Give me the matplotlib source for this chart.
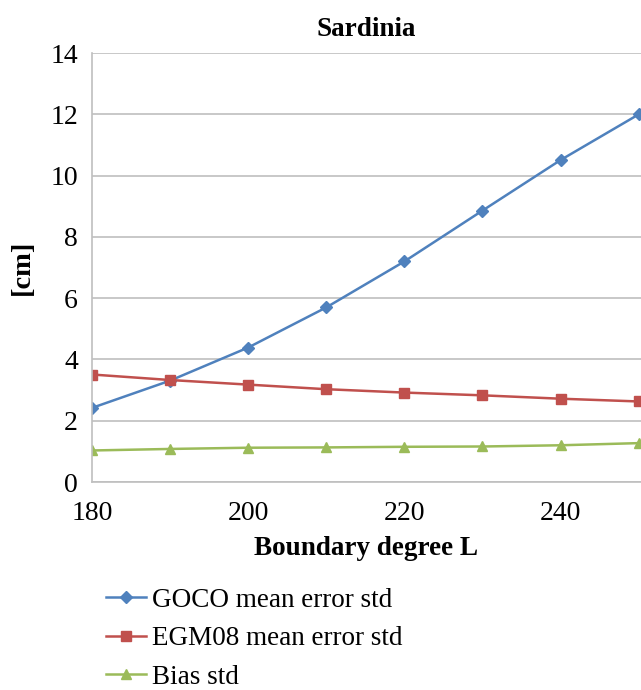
import numpy as np
import matplotlib
matplotlib.use("Agg")
import matplotlib.pyplot as plt

plt.rcParams['font.family'] = ['Liberation Serif', 'DejaVu Serif']

degree = [180, 190, 200, 210, 220, 230, 240, 250]
goco = [2.42, 3.31, 4.39, 5.70, 7.20, 8.86, 10.51, 12.0]
egm08 = [3.51, 3.33, 3.18, 3.03, 2.92, 2.83, 2.72, 2.63]
bias = [1.03, 1.08, 1.12, 1.13, 1.15, 1.16, 1.20, 1.27]

fig = plt.figure(figsize=(6.41, 6.90), dpi=100)
ax = fig.add_axes([0.1435, 0.3014, 0.8565, 0.6216])

ax.plot(degree, goco, color="#4F81BD", lw=1.8, marker="D", ms=6, label="GOCO mean error std")
ax.plot(degree, egm08, color="#C0504D", lw=1.8, marker="s", ms=7, label="EGM08 mean error std")
ax.plot(degree, bias, color="#9BBB59", lw=1.8, marker="^", ms=7.5, label="Bias std")

ax.set_xlim(180, 250.3)
ax.set_ylim(0, 14)
ax.set_yticks(np.arange(0, 15, 2))
ax.set_xticks([180, 200, 220, 240])
ax.grid(axis="y", color="#BFBFBF", lw=1.2)
ax.set_axisbelow(True)
for s in ["top", "right"]:
    ax.spines[s].set_visible(False)
for s in ["left", "bottom"]:
    ax.spines[s].set_color("#BFBFBF")
    ax.spines[s].set_linewidth(1.2)
ax.tick_params(length=0, labelsize=20)
ax.tick_params(axis="x", pad=14)
ax.tick_params(axis="y", pad=10)

ax.set_title("Sardinia", fontsize=19.5, fontweight="bold", pad=12)
ax.set_xlabel("Boundary degree L", fontsize=19.5, fontweight="bold", labelpad=7)
ax.set_ylabel("[cm]", fontsize=20.5, fontweight="bold", labelpad=11)

fig.legend(loc="upper left", bbox_to_anchor=(0.165, 0.148), frameon=False,
           fontsize=19.5, handlelength=1.5, handletextpad=0.2, labelspacing=0.5,
           borderaxespad=0, borderpad=0)

fig.savefig("out.png", dpi=100)
